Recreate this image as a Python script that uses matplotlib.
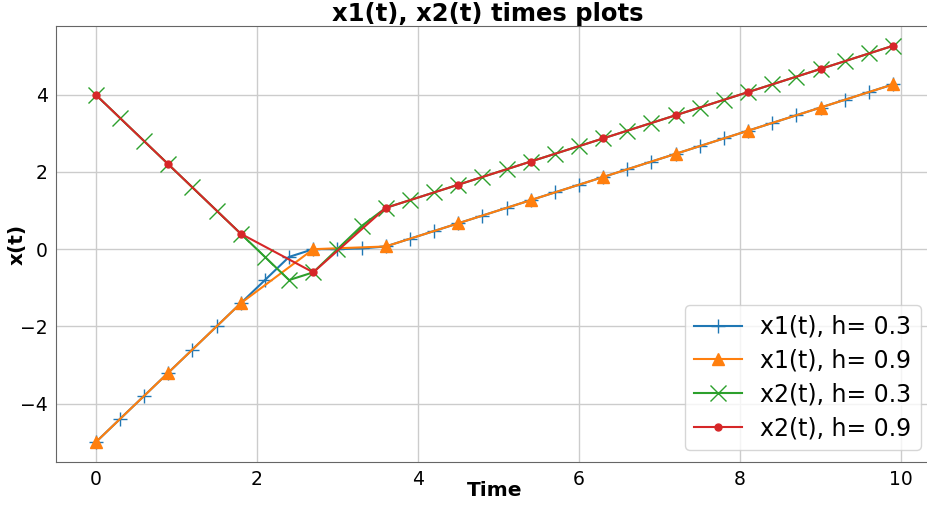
import matplotlib
matplotlib.use("Agg")
import matplotlib.pyplot as plt

# time grids
t_03 = [round(0.3 * i, 1) for i in range(34)]
t_09 = [round(0.9 * i, 1) for i in range(12)]

# values
x1_h03 = [-5.0, -4.4, -3.8, -3.2, -2.6, -2.0, -1.4, -0.8, -0.2, 0.0,
          0.0, 0.02, 0.07, 0.27, 0.47, 0.67, 0.87, 1.07, 1.27, 1.47,
          1.67, 1.87, 2.07, 2.27, 2.47, 2.67, 2.87, 3.07, 3.27, 3.47,
          3.67, 3.87, 4.07, 4.27]
x1_h09 = [-5.0, -3.2, -1.4, 0.0, 0.07, 0.67, 1.27, 1.87, 2.47, 3.07, 3.67, 4.27]
x2_h03 = [4.0, 3.4, 2.8, 2.2, 1.6, 1.0, 0.4, -0.2, -0.8, -0.6,
          0.0, 0.6, 1.07, 1.27, 1.47, 1.67, 1.87, 2.07, 2.27, 2.47,
          2.67, 2.87, 3.07, 3.27, 3.47, 3.67, 3.87, 4.07, 4.27, 4.47,
          4.67, 4.87, 5.07, 5.27]
x2_h09 = [4.0, 2.2, 0.4, -0.6, 1.07, 1.67, 2.27, 2.87, 3.47, 4.07, 4.67, 5.27]

labels = ['x1(t), h= 0.3', 'x1(t), h= 0.9', 'x2(t), h= 0.3', 'x2(t), h= 0.9']

fig = plt.figure(figsize=(9.28, 5.07), dpi=100)
ax = fig.add_axes([0.0603, 0.0888, 0.945, 0.86])

ax.plot(t_03, x1_h03, marker='+', markersize=10, color='tab:blue', label=labels[0])
ax.plot(t_09, x1_h09, marker='^', markersize=8, color='tab:orange', label=labels[1])
ax.plot(t_03, x2_h03, marker='x', markersize=11, color='tab:green', label=labels[2])
ax.plot(t_09, x2_h09, marker='o', markersize=5, color='tab:red', label=labels[3])

ax.grid(True, color='#cccccc', linewidth=1)
ax.set_axisbelow(True)
for s in ax.spines.values():
    s.set_color('#666666')
ax.spines['right'].set_visible(False)
ax.tick_params(length=0, labelsize=13.5, pad=6)

ax.set_title('x1(t), x2(t) times plots', fontsize=17.5, fontweight='bold', pad=3, x=0.492)
ax.set_xlabel('Time', fontsize=14.5, fontweight='bold', labelpad=-6)
ax.set_ylabel('x(t)', fontsize=14.5, fontweight='bold', labelpad=-5)
ax.legend(loc='lower right', fontsize=17, borderaxespad=0, labelspacing=0.42,
          bbox_to_anchor=(921 / 928, 1 - 450 / 507), bbox_transform=fig.transFigure)

fig.savefig('out.png', dpi=100)
